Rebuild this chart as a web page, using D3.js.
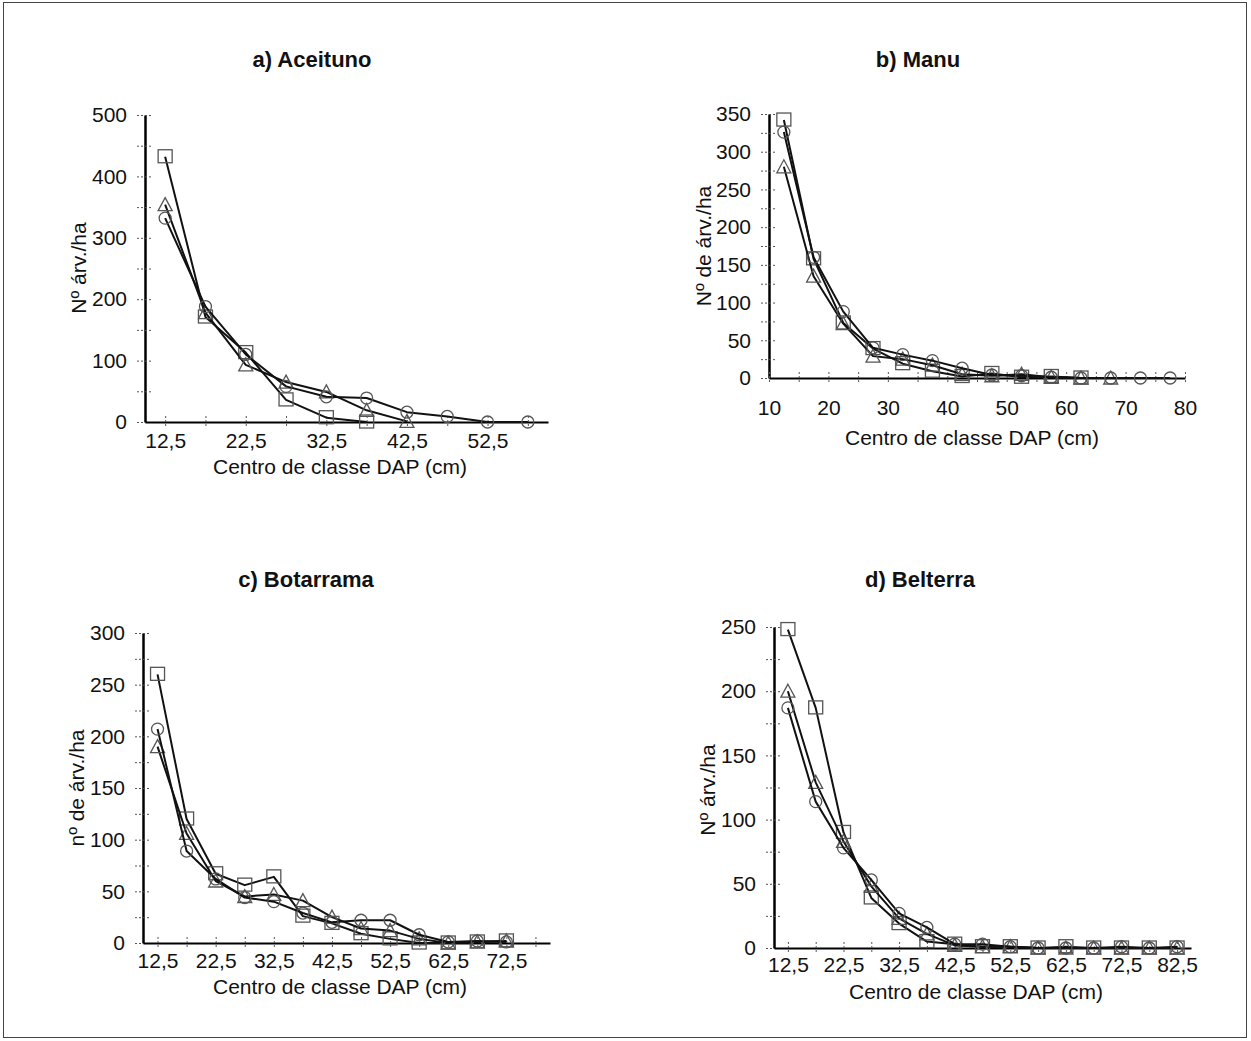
<!DOCTYPE html>
<html>
<head>
<meta charset="utf-8">
<script src="https://cdn.jsdelivr.net/npm/d3@7"></script>
<style>
  body { margin: 0; background: #fff; }
  svg { display: block; }
  text { font-family: "Liberation Sans", Arial, sans-serif; fill: #111; }
</style>
</head>
<body>
<svg id="fig" width="1251" height="1041"></svg>
<script>
// DAP class centres (cm) for each site
const classesA = [12.5, 17.5, 22.5, 27.5, 32.5, 37.5, 42.5, 47.5, 52.5, 57.5];
const classesB = [12.5, 17.5, 22.5, 27.5, 32.5, 37.5, 42.5, 47.5, 52.5, 57.5, 62.5, 67.5, 72.5, 77.5];
const classesC = [12.5, 17.5, 22.5, 27.5, 32.5, 37.5, 42.5, 47.5, 52.5, 57.5, 62.5, 67.5, 72.5, 77.5];
const classesD = [12.5, 17.5, 22.5, 27.5, 32.5, 37.5, 42.5, 47.5, 52.5, 57.5, 62.5, 67.5, 72.5, 77.5, 82.5];

// Trees per hectare by class: square, triangle and circle series
const aceitunoSquare   = [432, 171, 113, 36, 7, 0];
const aceitunoTriangle = [354, 178, 93, 65, 49, 19, 1];
const aceitunoCircle   = [332, 188, 110, 58, 41, 39, 16, 9, 0, 0];

const manuSquare   = [342, 158, 73, 39, 19, 9, 2, 6, 1, 2, 0];
const manuTriangle = [280, 135, 72, 29, 25, 17, 5, 3, 5, 1, 0, 0];
const manuCircle   = [326, 160, 88, 40, 31, 23, 13, 4, 3, 1, 0, 0, 0, 0];

const botarramaSquare   = [260, 120, 67, 56, 64, 26, 19, 9, 4, 0, 0, 1, 2];
const botarramaTriangle = [190, 106, 60, 45, 47, 41, 25, 14, 12, 4, 0, 1, 2];
const botarramaCircle   = [207, 89, 62, 44, 40, 29, 20, 22, 22, 8, 1, 2, 1];

const belterraSquare   = [248, 187, 90, 39, 19, 5, 3, 1, 1, 0, 1, 0, 0, 0, 0];
const belterraTriangle = [200, 129, 83, 48, 23, 11, 2, 1, 1, 0, 0, 0, 0, 0, 0];
const belterraCircle   = [187, 114, 78, 53, 27, 16, 3, 3, 1, 0, 0, 0, 1, 0, 1];

// Axis ticks
const yTicksA = [0, 100, 200, 300, 400, 500];
const yMinorA = [50, 150, 250, 350, 450];
const yTicksB = [0, 50, 100, 150, 200, 250, 300, 350];
const yMinorB = [25, 75, 125, 175, 225, 275, 325];
const yTicksC = [0, 50, 100, 150, 200, 250, 300];
const yMinorC = [25, 75, 125, 175, 225, 275];
const yTicksD = [0, 50, 100, 150, 200, 250];
const yMinorD = [25, 75, 125, 175, 225];

const xLabelsA = [12.5, 22.5, 32.5, 42.5, 52.5];
const xTicksB  = [10, 20, 30, 40, 50, 60, 70, 80];
const xMinorB  = [15, 25, 35, 45, 55, 65, 75];
const xLabelsC = [12.5, 22.5, 32.5, 42.5, 52.5, 62.5, 72.5];
const xLabelsD = [12.5, 22.5, 32.5, 42.5, 52.5, 62.5, 72.5, 82.5];

const xTitle = "Centro de classe DAP (cm)";

const commaFmt = d3.formatLocale({ decimal: ",", thousands: ".", grouping: [3], currency: ["", ""] }).format(".1f");

const panels = [
  { title: "a) Aceituno", yTitle: "Nº árv./ha", classes: classesA,
    series: [aceitunoSquare, aceitunoTriangle, aceitunoCircle],
    yMax: 500, yTicks: yTicksA, yMinor: yMinorA, xLabels: xLabelsA,
    xr: [145, 548], yr: [422, 115], xPad: 11,
    titlePos: [312, 67], xTitlePos: [340, 474], yTitlePos: [78, 268] },
  { title: "b) Manu", yTitle: "Nº de árv./ha", classes: classesB, linear: [10, 80],
    series: [manuSquare, manuTriangle, manuCircle],
    yMax: 350, yTicks: yTicksB, yMinor: yMinorB, xLabels: xTicksB, xMinor: xMinorB,
    xr: [769, 1185], yr: [378, 114], xPad: 22,
    titlePos: [918, 67], xTitlePos: [972, 445], yTitlePos: [703, 246] },
  { title: "c) Botarrama", yTitle: "nº de árv./ha", classes: classesC,
    series: [botarramaSquare, botarramaTriangle, botarramaCircle],
    yMax: 300, yTicks: yTicksC, yMinor: yMinorC, xLabels: xLabelsC,
    xr: [143, 550], yr: [943, 633], xPad: 10,
    titlePos: [306, 587], xTitlePos: [340, 994], yTitlePos: [76, 788] },
  { title: "d) Belterra", yTitle: "Nº árv./ha", classes: classesD,
    series: [belterraSquare, belterraTriangle, belterraCircle],
    yMax: 250, yTicks: yTicksD, yMinor: yMinorD, xLabels: xLabelsD,
    xr: [774, 1191], yr: [948, 627], xPad: 9,
    titlePos: [920, 587], xTitlePos: [976, 999], yTitlePos: [707, 790] }
];

const svg = d3.select("#fig");

// figure frame
svg.append("rect")
  .attr("x", 3.5).attr("y", 2.5).attr("width", 1243).attr("height", 1035)
  .attr("fill", "none").attr("stroke", "#444").attr("stroke-width", 1);

const markerKinds = ["square", "triangle", "circle"];

function drawMarker(sel, kind) {
  if (kind === "square") {
    sel.append("rect").attr("x", -7).attr("y", -7).attr("width", 14).attr("height", 13);
  } else if (kind === "triangle") {
    sel.append("path").attr("d", "M0,-7L7,6L-7,6Z");
  } else {
    sel.append("circle").attr("r", 6);
  }
}

function drawPanel(p) {
  const g = svg.append("g");

  const x = p.linear
    ? d3.scaleLinear().domain(p.linear).range(p.xr)
    : d3.scalePoint().domain(p.classes).range(p.xr).padding(0.5);
  const y = d3.scaleLinear().domain([0, p.yMax]).range(p.yr);

  // y axis: major ticks with labels, minor ticks without
  const yAx = g.append("g").attr("transform", `translate(${p.xr[0]},0)`)
    .call(d3.axisLeft(y).tickValues(p.yTicks).tickSize(0).tickSizeOuter(0).tickPadding(18));
  const yMin = g.append("g").attr("transform", `translate(${p.xr[0]},0)`)
    .call(d3.axisLeft(y).tickValues(p.yMinor).tickSize(0).tickSizeOuter(0).tickFormat(() => ""));
  yMin.select(".domain").remove();
  [yAx, yMin].forEach(a => a.selectAll(".tick line")
    .attr("x1", -8).attr("x2", 8)
    .attr("stroke", "#555").attr("stroke-width", 1).attr("stroke-dasharray", "2,2"));
  yAx.select(".domain").attr("stroke", "#000").attr("stroke-width", 2.5);

  // x axis
  const xAx = g.append("g").attr("transform", `translate(0,${p.yr[0]})`)
    .call(d3.axisBottom(x).tickValues(p.xLabels).tickSize(0).tickSizeOuter(0).tickPadding(p.xPad)
      .tickFormat(p.linear ? d3.format("d") : commaFmt));
  xAx.selectAll(".tick line").remove();
  xAx.select(".domain").attr("stroke", "#000").attr("stroke-width", 2);

  const xTickVals = p.linear ? p.xLabels.concat(p.xMinor) : p.classes;
  const xTk = g.append("g").attr("transform", `translate(0,${p.yr[0]})`)
    .call(d3.axisBottom(x).tickValues(xTickVals).tickSize(0).tickSizeOuter(0).tickFormat(() => ""));
  xTk.select(".domain").remove();
  xTk.selectAll(".tick line")
    .attr("y1", -6).attr("y2", 6)
    .attr("stroke", "#555").attr("stroke-width", 1).attr("stroke-dasharray", "2,2");

  [yAx, xAx].forEach(a => a.selectAll(".tick text")
    .attr("font-size", 21).attr("font-family", "\"Liberation Sans\", Arial, sans-serif").attr("fill", "#111"));

  // series lines and hollow markers
  const line = d3.line().x(d => x(d.c)).y(d => y(d.v));
  p.series.forEach((vals, si) => {
    const pts = vals.map((v, i) => ({ c: p.classes[i], v }));
    g.append("path").datum(pts)
      .attr("d", line)
      .attr("fill", "none").attr("stroke", "#111").attr("stroke-width", 2)
      .attr("stroke-linejoin", "round");
    const m = g.append("g")
      .attr("fill", "none").attr("stroke", "#555").attr("stroke-width", 1.3)
      .selectAll("g").data(pts).join("g")
      .attr("transform", d => `translate(${x(d.c)},${y(d.v)})`);
    m.each(function () { drawMarker(d3.select(this), markerKinds[si]); });
  });

  // titles
  g.append("text").attr("x", p.titlePos[0]).attr("y", p.titlePos[1])
    .attr("text-anchor", "middle").attr("font-size", 22).attr("font-weight", "bold")
    .text(p.title);
  g.append("text").attr("x", p.xTitlePos[0]).attr("y", p.xTitlePos[1])
    .attr("text-anchor", "middle").attr("font-size", 21)
    .text(xTitle);
  g.append("text")
    .attr("transform", `translate(${p.yTitlePos[0]},${p.yTitlePos[1]}) rotate(-90)`)
    .attr("text-anchor", "middle").attr("dy", "0.36em").attr("font-size", 21)
    .text(p.yTitle);
}

panels.forEach(drawPanel);
</script>
</body>
</html>
